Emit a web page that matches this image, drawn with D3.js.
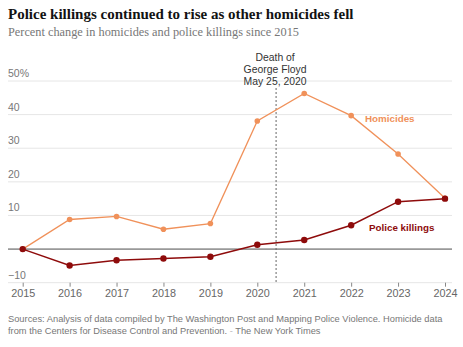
<!DOCTYPE html>
<html>
<head>
<meta charset="utf-8">
<script src="https://d3js.org/d3.v7.min.js"></script>
<style>
    body {
        margin: 0;
        padding: 0;
        background: #fff;
    }

    svg {
        display: block;
    }

    .title {
        font-family: "Liberation Serif", serif;
        font-weight: bold;
        font-size: 15px;
        fill: #121212;
    }

    .subtitle {
        font-family: "Liberation Serif", serif;
        font-size: 12.3px;
        fill: #777;
    }

    .grid line {
        stroke: #e6e6e6;
        stroke-width: 1;
    }

    .tick-label {
        font-family: "Liberation Sans", Arial, sans-serif;
        font-size: 10.5px;
        fill: #777;
    }

    .note {
        font-family: "Liberation Sans", Arial, sans-serif;
        font-size: 10.4px;
        fill: #333;
    }

    .series-label {
        font-family: "Liberation Sans", Arial, sans-serif;
        font-weight: bold;
        font-size: 9.8px;
    }

    .source {
        font-family: "Liberation Sans", Arial, sans-serif;
        font-size: 9.3px;
        fill: #777;
    }
</style>
</head>
<body>
<script>

var years = [2015, 2016, 2017, 2018, 2019, 2020, 2021, 2022, 2023, 2024];
var homicides = [0, 8.8, 9.7, 5.9, 7.6, 38.1, 46.3, 39.7, 28.3, 15.1];
var policeKillings = [0, -4.9, -3.3, -2.8, -2.3, 1.3, 2.7, 7.1, 14.1, 15.0];
var yTicks = [-10, 0, 10, 20, 30, 40, 50];
var floydDate = 2020.4;

var width = 463;
var height = 347;

var x = d3.scaleLinear().domain([2015, 2024]).range([22.7, 445]);
var y = d3.scaleLinear().domain([-10, 50]).range([282.7, 81]);

var svg = d3.select("body")
    .append("svg")
    .attr("width", width)
    .attr("height", height);

svg.append("text")
    .attr("class", "title")
    .attr("x", 8)
    .attr("y", 19)
    .text("Police killings continued to rise as other homicides fell");

svg.append("text")
    .attr("class", "subtitle")
    .attr("x", 8)
    .attr("y", 36)
    .text("Percent change in homicides and police killings since 2015");

// horizontal gridlines
var grid = svg.append("g").attr("class", "grid");
grid.selectAll("line")
    .data(yTicks.filter(function (d) { return d !== 0; }))
    .enter().append("line")
    .attr("x1", 8)
    .attr("x2", 452)
    .attr("y1", function (d) { return y(d); })
    .attr("y2", function (d) { return y(d); });

svg.selectAll(".y-label")
    .data(yTicks.filter(function (d) { return d !== 0; }))
    .enter().append("text")
    .attr("class", "tick-label y-label")
    .attr("x", 8)
    .attr("y", function (d) { return y(d) - 4; })
    .text(function (d) {
        if (d === 50) return "50%";
        return d < 0 ? "\u2212" + Math.abs(d) : d;
    });

// x axis ticks and labels
var xAxis = d3.axisBottom(x)
    .tickValues(years)
    .tickFormat(d3.format("d"))
    .tickSize(4)
    .tickPadding(3);

var xg = svg.append("g")
    .attr("transform", "translate(0," + y(-10) + ")")
    .call(xAxis);
xg.select(".domain").remove();
xg.selectAll(".tick line").attr("stroke", "#888");
xg.selectAll(".tick text")
    .attr("fill", null)
    .style("font-family", "'Liberation Sans', Arial, sans-serif")
    .style("font-size", "10.8px")
    .style("fill", "#666");

// zero baseline
svg.append("line")
    .attr("x1", 8)
    .attr("x2", 452)
    .attr("y1", y(0))
    .attr("y2", y(0))
    .attr("stroke", "#999")
    .attr("stroke-width", 1.6);

// George Floyd marker
svg.append("line")
    .attr("x1", x(floydDate))
    .attr("x2", x(floydDate))
    .attr("y1", 88)
    .attr("y2", y(-10))
    .attr("stroke", "#666")
    .attr("stroke-width", 1)
    .attr("stroke-dasharray", "2,2");

var note = svg.append("text")
    .attr("class", "note")
    .attr("text-anchor", "middle");
["Death of", "George Floyd", "May 25, 2020"].forEach(function (s, i) {
    note.append("tspan")
        .attr("x", x(floydDate) - 1)
        .attr("y", 61 + i * 12)
        .text(s);
});

var line = d3.line()
    .x(function (d, i) { return x(years[i]); })
    .y(function (d) { return y(d); });

function drawSeries(values, color, r, w) {
    svg.append("path")
        .attr("d", line(values))
        .attr("fill", "none")
        .attr("stroke", color)
        .attr("stroke-width", w);
    svg.append("g")
        .selectAll("circle")
        .data(values)
        .enter().append("circle")
        .attr("cx", function (d, i) { return x(years[i]); })
        .attr("cy", function (d) { return y(d); })
        .attr("r", r)
        .attr("fill", color);
}

drawSeries(homicides, "#f0915a", 2.8, 1.3);
drawSeries(policeKillings, "#8e0b0b", 3.2, 1.5);

svg.append("text")
    .attr("class", "series-label")
    .attr("x", 365)
    .attr("y", 122)
    .style("fill", "#f0915a")
    .text("Homicides");

svg.append("text")
    .attr("class", "series-label")
    .attr("x", 369)
    .attr("y", 231)
    .style("fill", "#8e0b0b")
    .text("Police killings");

// source line
var src = svg.append("text").attr("class", "source");
src.append("tspan")
    .attr("x", 8)
    .attr("y", 322)
    .text("Sources: Analysis of data compiled by The Washington Post and Mapping Police Violence. Homicide data");
src.append("tspan")
    .attr("x", 8)
    .attr("y", 334)
    .text("from the Centers for Disease Control and Prevention.  ");
src.append("tspan").style("fill", "#bbb").text("-");
src.append("tspan").text("  The New York Times");

</script>
</body>
</html>
